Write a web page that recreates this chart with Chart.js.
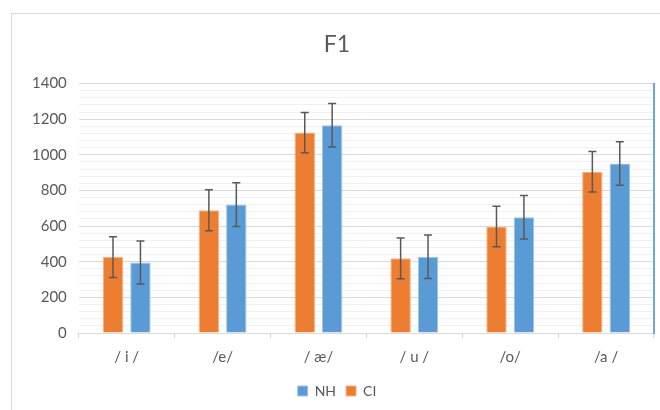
<!DOCTYPE html>
<html>
<head>
<meta charset="utf-8">
<script src="https://cdn.jsdelivr.net/npm/chart.js@4/dist/chart.umd.min.js"></script>
<style>
  html, body { margin: 0; padding: 0; background: #fff; overflow: hidden; }
  #frame {
    position: absolute; left: 11px; top: 13px;
    width: 662px; height: 410px;
    border-left: 1px solid #d9d9d9; border-top: 1px solid #d9d9d9;
  }
  #box { position: relative; width: 662px; height: 397px; }
</style>
</head>
<body>
<div id="frame"><div id="box"><canvas id="chart"></canvas></div></div>
<script>
// Данные графика
const vowels = ['/ i /', '/e/', '/ æ/', '/ u /', '/o/', '/a /'];
const ciValues = [426, 689, 1125, 419, 598, 905];
const ciErrors = [114, 115, 113, 114, 114, 114];
const nhValues = [396, 721, 1166, 428, 650, 951];
const nhErrors = [121, 123, 122, 122, 122, 122];

const textColor = '#595959';
const fontName = 'Lato';

// Планки погрешностей поверх столбцов
const errorBars = {
  id: 'errorBars',
  afterDatasetsDraw(chart) {
    const ctx = chart.ctx;
    const yScale = chart.scales.y;
    ctx.save();
    ctx.strokeStyle = '#595959';
    ctx.lineWidth = 1.5;
    chart.data.datasets.forEach(function(ds, i) {
      const meta = chart.getDatasetMeta(i);
      meta.data.forEach(function(bar, j) {
        const v = ds.data[j];
        const e = ds.errors[j];
        const top = yScale.getPixelForValue(v + e);
        const bot = yScale.getPixelForValue(v - e);
        const x = bar.x;
        ctx.beginPath();
        ctx.moveTo(x, top); ctx.lineTo(x, bot);
        ctx.moveTo(x - 4, top); ctx.lineTo(x + 4, top);
        ctx.moveTo(x - 4, bot); ctx.lineTo(x + 4, bot);
        ctx.stroke();
      });
    });
    ctx.restore();
  }
};

const ctx = document.getElementById('chart').getContext('2d');
const chart = new Chart(ctx, {
  type: 'bar',
  data: {
    labels: vowels,
    datasets: [{
      label: 'CI',
      data: ciValues,
      errors: ciErrors,
      backgroundColor: '#ED7D31',
      borderColor: '#F4B183',
      borderWidth: 1,
      categoryPercentage: 0.572,
      barPercentage: 0.745
    }, {
      label: 'NH',
      data: nhValues,
      errors: nhErrors,
      backgroundColor: '#5B9BD5',
      borderColor: '#9DC3E6',
      borderWidth: 1,
      categoryPercentage: 0.572,
      barPercentage: 0.745
    }]
  },
  options: {
    responsive: true,
    maintainAspectRatio: false,
    animation: false,
    layout: {
      padding: { left: 8, right: 20, top: 0, bottom: 3 }
    },
    plugins: {
      title: {
        display: true,
        text: 'F1',
        color: textColor,
        font: { family: fontName, size: 23, weight: 'normal' },
        padding: { top: 17, bottom: 25 }
      },
      legend: {
        position: 'bottom',
        reverse: true,
        labels: {
          color: textColor,
          font: { family: fontName, size: 14 },
          boxWidth: 10,
          boxHeight: 10,
          padding: 10
        }
      },
      tooltip: { enabled: false }
    },
    scales: {
      x: {
        grid: {
          offset: true,
          drawOnChartArea: false,
          drawTicks: true,
          tickLength: 5,
          color: '#d9d9d9'
        },
        border: { color: '#d9d9d9' },
        ticks: {
          color: textColor,
          font: { family: fontName, size: 15 },
          padding: 10
        },
        afterFit: function(scale) { scale.height -= 2; }
      },
      y: {
        min: 0,
        max: 1400,
        border: { display: false },
        grid: {
          drawTicks: false,
          color: function(c) { return c.tick && c.tick.value % 200 === 0 ? '#d9d9d9' : '#f0f0f0'; }
        },
        ticks: {
          stepSize: 40,
          autoSkip: false,
          padding: 12,
          color: textColor,
          font: { family: fontName, size: 15 },
          callback: function(v) { return v % 200 === 0 ? v : ''; }
        }
      },
      y2: {
        position: 'right',
        min: 0,
        max: 1400,
        grid: { drawOnChartArea: false, drawTicks: false },
        border: { color: '#6FA8DC', width: 2 },
        ticks: { display: false }
      }
    }
  },
  plugins: [errorBars]
});
</script>
</body>
</html>
